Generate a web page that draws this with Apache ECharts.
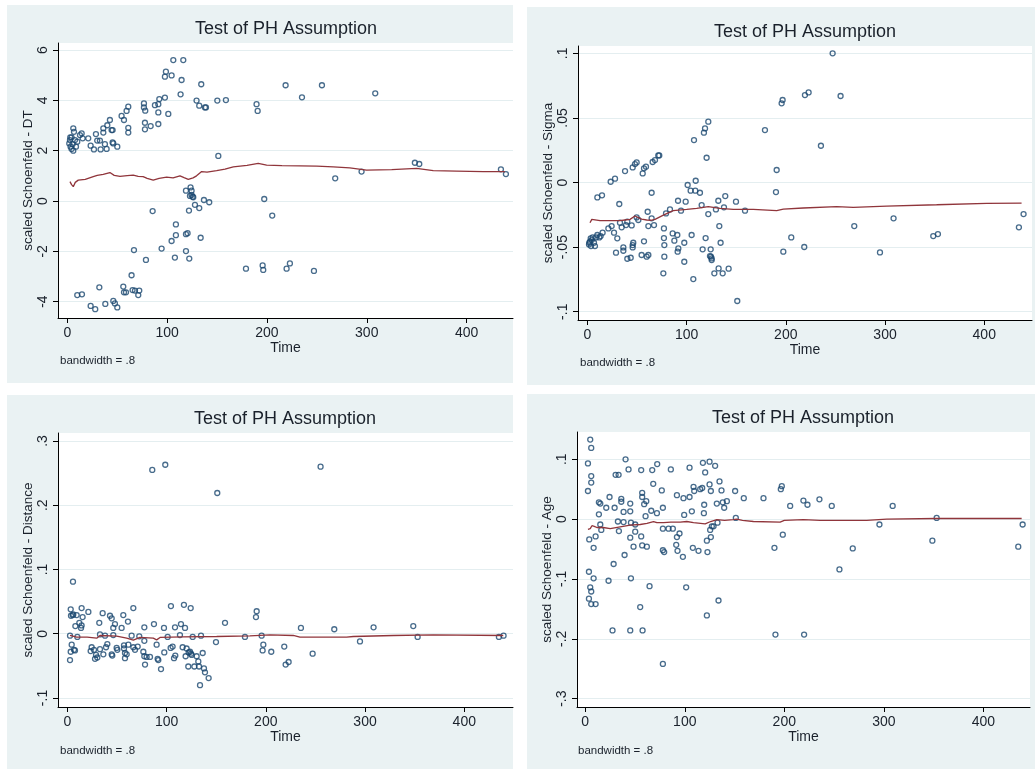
<!DOCTYPE html>
<html>
<head>
<meta charset="utf-8">
<title>Test of PH Assumption</title>
<script src="https://cdn.jsdelivr.net/npm/echarts@6/dist/echarts.min.js"></script>
<style>
  html, body { margin: 0; padding: 0; background: #ffffff; }
  #chart { width: 1035px; height: 769px; }
</style>
</head>
<body>
<div id="chart"></div>
<script>
// Scaled Schoenfeld residuals against analysis time, one panel per covariate,
// each with its lowess smooth (bandwidth .8).

const chartTitle = 'Test of PH Assumption';
const xAxisTitle = 'Time';
const noteText = 'bandwidth = .8';
const xTicks = [0, 100, 200, 300, 400];

// ---- DT ----
const dtName = 'scaled Schoenfeld - DT';
const dtTicks = [-4, -2, 0, 2, 4, 6];
const dtPoints = [
  [3.0,2.53],[4.3,2.53],[2.0,2.29],[3.3,2.16],[4.3,2.07],[6.0,2.0],[6.0,2.89],[6.7,2.75],[7.7,2.42],[8.7,2.16],[10.0,2.36],[5.3,2.26],[2.7,2.42],
  [12.7,2.62],[14.4,2.69],[15.4,2.49],[21.0,2.49],[23.4,2.20],[26.7,2.05],[28.7,2.66],[30.0,2.40],[32.7,2.40],[33.4,2.05],[36.1,2.89],[36.1,2.72],
  [37.7,2.26],[39.4,2.07],[40.1,3.01],[42.7,3.22],[44.4,2.82],[45.4,2.82],[45.4,2.33],[46.1,2.29],[50.1,2.16],[54.4,3.38],[56.8,3.22],[59.4,3.58],
  [61.1,3.75],[61.1,2.91],[61.1,2.72],
  [76.8,3.88],[76.8,3.72],[78.1,3.59],[77.8,3.11],[77.8,2.85],[83.5,2.98],[87.8,3.81],[91.2,3.85],[91.2,3.52],[91.2,3.06],[92.2,4.05],[97.8,4.11],
  [101.2,3.46],[97.8,4.94],[98.8,5.14],[104.5,4.99],[106.2,5.60],[116.2,5.60],[114.5,4.81],[113.5,4.24],[129.5,3.99],[132.2,3.79],[137.9,3.72],
  [138.9,3.72],[134.2,4.64],[150.3,3.99],[158.9,4.01],[151.3,1.79],
  [189.6,3.85],[190.7,3.58],[218.7,4.60],[235.1,4.12],[255.1,4.60],[308.5,4.28],[268.4,0.90],[294.8,1.17],[348.2,1.52],[352.6,1.47],[434.4,1.26],[439.4,1.07],
  [118.9,0.41],[123.5,0.54],[124.5,0.41],[124.5,0.24],[125.5,0.17],[122.9,0.20],[126.2,0.15],[121.9,-0.38],[127.9,-0.15],[132.2,-0.28],[136.9,0.04],
  [142.2,-0.05],[85.5,-0.40],[108.8,-0.93],[104.5,-1.59],[108.8,-1.36],[118.9,-1.32],[120.5,-1.28],[133.6,-1.46],[94.5,-1.89],[118.9,-1.99],
  [107.8,-2.25],[122.2,-2.29],[66.8,-1.95],[78.8,-2.34],[64.4,-2.95],[65.4,-3.54],[67.8,-3.56],[72.1,-3.56],[71.1,-3.74],[56.1,-3.40],[56.8,-3.63],
  [58.8,-3.63],[32.1,-3.43],[10.0,-3.74],[14.7,-3.71],[23.4,-4.17],[28.0,-4.30],[38.1,-4.09],[46.1,-3.97],[47.7,-4.07],[50.1,-4.23],
  [179.0,-2.69],[195.7,-2.56],[196.3,-2.74],[219.7,-2.69],[223.0,-2.48],[247.1,-2.78],[197.3,0.08],[205.3,-0.58]
];
const dtSmooth = [
  [2.7,0.77],[4.3,0.65],[6.0,0.57],[8.0,0.74],[11.0,0.83],[18.0,0.86],[26.0,0.97],[30.0,1.02],[36.0,1.06],[42.7,1.13],[47.0,1.02],[52.8,0.98],
  [60.0,1.01],[66.1,1.03],[71.0,0.98],[76.0,0.97],[80.0,0.90],[86.1,0.83],[92.0,0.90],[99.5,0.95],[106.0,0.92],[112.9,1.0],[117.0,0.93],
  [121.2,0.86],[126.0,0.92],[129.5,1.0],[134.6,1.17],[140.0,1.15],[149.6,1.21],[158.0,1.27],[166.3,1.36],[180.0,1.42],[191.3,1.50],
  [199.7,1.43],[215.0,1.41],[233.1,1.40],[250.0,1.39],[266.4,1.36],[283.0,1.32],[299.8,1.23],[325.0,1.25],[349.9,1.30],[366.6,1.21],
  [390.0,1.19],[416.7,1.17],[438.4,1.17]
];

// ---- Sigma ----
const sigmaName = 'scaled Schoenfeld - Sigma';
const sigmaTicks = [-0.1, -0.05, 0, 0.05, 0.1];
const sigmaPoints = [
  [1.7,-0.0479],[2.7,-0.0458],[3.4,-0.0432],[4.4,-0.0445],[2.0,-0.0466],[3.7,-0.0492],[5.4,-0.0425],[6.7,-0.0466],[7.7,-0.0492],[8.7,-0.0425],
  [10.1,-0.0406],[12.1,-0.0425],[13.4,-0.0414],[15.4,-0.0388],
  [10.1,-0.0115],[14.8,-0.0099],[23.5,0.0006],[27.9,0.0030],[32.2,-0.0166],[38.0,0.0089],[45.7,0.0117],[48.0,0.0143],[49.7,0.0156],[55.8,0.0071],
  [57.1,0.0110],[59.1,0.0123],[64.8,-0.0079],[65.8,0.0159],[68.2,0.0174],[71.5,0.0210],[72.5,0.0210],
  [21.2,-0.0355],[24.5,-0.0337],[26.9,-0.0388],[30.2,-0.0432],[28.9,-0.0543],[32.9,-0.0311],[34.6,-0.0347],[36.3,-0.0502],[36.3,-0.0528],
  [39.0,-0.0329],[40.3,-0.0303],[40.3,-0.0590],[43.7,-0.0582],[44.7,-0.0332],[45.7,-0.0502],[45.7,-0.0484],[46.3,-0.0466],[49.7,-0.0270],
  [51.4,-0.0290],[54.7,-0.0561],[57.1,-0.0455],[59.8,-0.0574],[61.5,-0.0561],[60.8,-0.0226],[61.5,-0.0337],[64.8,-0.0277],[67.2,-0.0329],
  [77.2,-0.0355],[77.2,-0.0430],[77.6,-0.0484],[77.6,-0.0574],[76.6,-0.0703],[79.3,-0.0239],[83.3,-0.0208],[86.0,-0.0394],[87.7,-0.0450],
  [90.7,-0.0406],[91.0,-0.0535],[91.7,-0.0510],[94.4,-0.0218],[97.7,-0.0466],[97.7,-0.0613],[99.1,-0.0148],[91.4,-0.0141],[101.1,-0.0019],
  [104.1,-0.0063],[105.1,-0.0406],[107.5,0.0329],[108.8,-0.0063],[109.2,0.0014],[113.5,-0.0079],[115.2,-0.0174],[116.2,-0.0517],[106.8,-0.0747],
  [117.5,0.0386],[118.6,0.0419],[120.2,0.0192],[121.9,0.0471],[119.2,-0.0430],[121.9,-0.0244],[124.3,-0.0517],[123.6,-0.0569],[124.6,-0.0574],
  [125.3,-0.0587],[125.3,-0.0600],[128.0,-0.0703],[129.6,-0.0208],[132.0,-0.0141],[133.0,-0.0337],[134.3,-0.0466],[132.3,-0.0665],[136.4,-0.0703],
  [137.7,-0.0192],[139.0,-0.0105],[142.4,-0.0667],[149.8,-0.0148],[151.1,-0.0917],[158.9,-0.0218],
  [179.0,0.0406],[190.1,-0.0074],[190.8,0.0097],[195.8,0.0613],[196.8,0.0639],[197.5,-0.0535],[205.5,-0.0425],[219.3,0.0677],[223.0,0.0698],
  [218.6,-0.0499],[235.4,0.0285],[247.2,0.1],[255.2,0.0670],[269.0,-0.0337],[294.9,-0.0541],[308.6,-0.0277],[348.6,-0.0414],[353.3,-0.0399],
  [434.9,-0.0347],[439.6,-0.0244]
];
const sigmaSmooth = [
  [2.7,-0.0311],[4.5,-0.0285],[6.0,-0.0277],[12.8,-0.0295],[22.0,-0.0295],[32.9,-0.0295],[38.0,-0.0290],[43.0,-0.0285],[48.0,-0.0259],
  [54.7,-0.0283],[59.8,-0.0290],[64.0,-0.0292],[68.2,-0.0285],[76.6,-0.0252],[86.6,-0.0218],[100.1,-0.0208],[110.2,-0.0200],[121.9,-0.0187],
  [133.7,-0.0200],[147.1,-0.0208],[167.3,-0.0208],[190.8,-0.0218],[197.5,-0.0205],[217.6,-0.0197],[251.2,-0.0187],[268.0,-0.0192],
  [301.6,-0.0182],[352.0,-0.0172],[402.4,-0.0161],[437.6,-0.0159]
];

// ---- Distance ----
const distName = 'scaled Schoenfeld - Distance';
const distTicks = [-0.1, 0, 0.1, 0.2, 0.3];
const distPoints = [
  [85.6,0.255],[98.7,0.263],[151.1,0.219],[255.2,0.260],[5.7,0.081],
  [2.7,-0.003],[2.7,-0.041],[3.4,0.038],[3.7,0.028],[4.4,-0.017],[3.4,-0.028],[5.4,0.029],[6.0,0.030],[6.7,-0.025],[7.7,-0.026],[8.1,0.012],
  [9.4,0.029],[10.1,-0.005],[12.1,0.017],[13.8,0.009],[14.4,0.040],[15.4,0.026],[14.4,0.013],[21.2,0.034],[23.5,-0.027],[24.5,-0.021],
  [26.9,-0.025],[27.9,-0.039],[28.9,-0.033],[30.2,-0.037],[32.2,0.017],[32.9,-0.001],[32.9,-0.024],[35.6,0.032],[36.3,-0.032],[38.0,-0.003],
  [39.0,-0.021],[40.3,-0.016],[43.0,0.028],[44.7,0.024],[44.7,-0.032],[45.3,-0.034],[46.3,0.009],[46.3,-0.002],[48.0,0.015],[49.7,-0.022],
  [50.4,-0.025],[54.7,0.009],[56.4,0.029],[57.1,-0.018],[57.1,-0.023],[58.1,-0.030],[58.1,-0.038],[59.8,-0.032],[61.1,0.019],[61.5,-0.017],
  [64.8,-0.003],[66.5,0.040],[66.5,-0.021],[68.2,-0.025],[70.9,-0.020],[72.5,-0.004],[76.6,-0.028],[77.6,0.010],[77.6,-0.011],[77.6,-0.035],
  [78.3,-0.048],[79.9,-0.036],[83.3,-0.036],[87.3,0.015],[90.0,-0.017],[91.0,-0.039],[91.7,-0.041],[94.4,-0.055],[97.4,0.009],[97.7,-0.029],
  [101.1,-0.005],[104.1,-0.022],[104.4,0.043],[106.1,-0.020],[107.5,-0.038],[108.5,0.010],[108.8,-0.034],[113.5,-0.002],[114.5,0.015],
  [116.2,-0.021],[117.5,0.045],[118.6,0.009],[119.2,-0.035],[120.2,-0.023],[121.9,-0.051],[122.3,-0.029],[123.6,-0.028],[124.3,0.040],
  [124.6,-0.031],[125.3,-0.033],[126.3,-0.005],[128.0,-0.051],[130.3,-0.035],[132.0,-0.043],[132.7,-0.051],[133.7,-0.080],[134.7,-0.003],
  [136.4,-0.030],[137.7,-0.054],[138.7,-0.060],[142.4,-0.069],[149.8,-0.013],[158.9,0.017],
  [179.0,-0.005],[190.1,0.026],[190.8,0.035],[195.8,-0.003],[196.8,-0.026],[197.5,-0.017],[205.5,-0.028],[218.6,-0.020],[220.0,-0.048],
  [223.0,-0.044],[235.4,0.009],[247.2,-0.031],[269.0,0.007],[294.9,-0.012],[308.6,0.010],[348.6,0.012],[353.0,-0.005],[434.9,-0.005],[439.6,-0.003]
];
const distSmooth = [
  [2.7,-0.0027],[9.4,-0.0053],[20.0,-0.0053],[29.6,-0.0069],[32.9,-0.0027],[49.7,-0.0037],[59.8,-0.0069],[66.5,-0.0100],[73.2,-0.0058],
  [86.6,-0.0069],[90.0,-0.0095],[93.4,-0.0058],[116.9,-0.0048],[150.5,-0.0043],[184.0,-0.0032],[204.2,-0.0017],[227.7,-0.0027],
  [234.4,-0.0053],[281.4,-0.0053],[288.2,-0.0043],[328.5,-0.0027],[368.8,-0.0017],[439.3,-0.0027]
];

// ---- Age ----
const ageName = 'scaled Schoenfeld - Age';
const ageTicks = [-0.3, -0.2, -0.1, 0, 0.1];
const agePoints = [
  [5.0,0.133],[6.0,0.119],[2.7,0.093],[6.0,0.072],[6.0,0.061],[2.7,0.047],[4.0,-0.034],[8.4,-0.048],[3.7,-0.088],[8.4,-0.099],[5.0,-0.114],
  [6.0,-0.121],[3.7,-0.133],[6.0,-0.142],[10.4,-0.142],[10.4,-0.029],[13.7,0.028],[15.1,0.026],[13.7,0.008],[15.1,-0.009],[16.1,-0.018],
  [21.1,0.019],[24.4,0.037],[29.5,0.019],[30.5,0.074],[33.5,0.074],[36.2,0.034],[36.2,0.029],[38.5,0.012],[32.8,-0.004],[33.8,-0.020],
  [38.5,-0.005],[40.5,0.100],[43.5,0.083],[39.5,-0.060],[28.5,-0.075],[23.4,-0.103],[27.4,-0.186],[45.2,0.026],[45.2,0.013],[45.2,-0.031],
  [45.9,-0.006],[48.5,-0.046],[50.2,-0.009],[50.2,-0.021],[45.9,-0.099],[45.2,-0.186],[56.2,0.082],[57.2,0.044],[57.2,0.037],[56.2,-0.029],
  [57.2,-0.044],[60.6,0.005],[59.2,0.025],[61.3,0.030],[61.9,-0.046],[66.3,0.014],[67.3,0.082],[68.3,0.059],[72.0,0.010],[72.3,0.092],
  [76.9,0.048],[78.0,0.019],[78.0,-0.016],[78.0,-0.052],[79.3,-0.055],[83.7,-0.016],[88.0,-0.016],[86.0,0.083],[92.1,0.040],[92.1,-0.030],
  [91.4,-0.043],[92.7,-0.053],[94.7,-0.024],[98.1,-0.063],[98.7,0.035],[99.4,0.007],[104.8,0.086],[104.8,0.037],[107.1,0.013],[108.1,-0.048],
  [108.8,0.054],[109.5,0.047],[113.8,-0.053],[115.5,0.050],[117.5,0.052],[118.2,0.094],[119.5,0.024],[119.2,0.010],[120.5,0.078],
  [122.2,-0.036],[122.8,-0.055],[124.9,0.096],[124.9,0.058],[126.2,0.047],[125.5,-0.018],[127.2,-0.012],[126.2,-0.030],[128.9,-0.012],
  [130.5,0.089],[132.2,0.026],[132.9,-0.006],[134.9,0.063],[136.9,0.048],[138.2,0.028],[139.6,0.019],[142.3,0.030],[122.2,-0.161],
  [101.4,-0.114],[64.6,-0.112],[55.2,-0.147],[57.6,-0.186],[78.0,-0.242],[133.9,-0.136],[150.6,0.047],[151.3,0.002],[159.3,0.035],
  [179.1,0.035],[190.1,-0.048],[191.1,-0.193],[196.5,0.050],[197.5,0.055],[198.5,-0.026],[205.9,0.022],[219.2,0.031],[223.3,0.024],
  [219.9,-0.193],[235.3,0.033],[247.7,0.022],[255.4,-0.084],[268.8,-0.049],[295.6,-0.009],[308.9,0.022],[348.8,-0.036],[353.1,0.002],
  [435.1,-0.046],[439.5,-0.009]
];
const ageSmooth = [
  [2.7,-0.017],[5.0,-0.016],[6.7,-0.011],[9.0,-0.012],[11.7,-0.014],[18.0,-0.014],[25.1,-0.016],[35.1,-0.013],[45.2,-0.010],[55.2,-0.009],
  [62.0,-0.007],[68.6,-0.004],[72.0,-0.006],[78.7,-0.006],[86.0,-0.005],[95.4,-0.005],[102.0,-0.004],[108.8,-0.006],[120.5,-0.008],
  [126.0,-0.004],[132.2,-0.001],[140.0,-0.002],[148.9,-0.001],[152.0,0.000],[158.0,-0.002],[169.0,-0.004],[195.8,-0.005],[200.0,-0.002],
  [219.2,-0.001],[236.0,-0.002],[282.8,-0.002],[302.9,0.000],[353.1,0.001],[438.5,0.001]
];

// ---- layout of the 2x2 combined graph ----
const FONT = '"Liberation Sans", Arial, Helvetica, sans-serif';
const TEXT = '#1a212b';
const MARKER = '#1a476f';
const SMOOTH = '#90353b';
const REGION = '#eaf2f3';

const panels = [
  { name: dtName,    ticks: dtTicks,    points: dtPoints,    smooth: dtSmooth,
    bg: [7, 5, 506, 378],   grid: [58, 43, 455, 275],  x: [-9.3, 446.5], y: [-4.65, 6.28],
    title: [286, 29],  note: [60, 361] },
  { name: sigmaName, ticks: sigmaTicks, points: sigmaPoints, smooth: sigmaSmooth,
    bg: [527, 7, 508, 378], grid: [578, 46, 454, 274], x: [-9.4, 448.1], y: [-0.1064, 0.1057],
    title: [805, 32],  note: [580, 363] },
  { name: distName,  ticks: distTicks,  points: distPoints,  smooth: distSmooth,
    bg: [7, 395, 506, 374], grid: [58, 433, 455, 274], x: [-9.4, 449.1], y: [-0.114, 0.3124],
    title: [285, 419], note: [60, 751] },
  { name: ageName,   ticks: ageTicks,   points: agePoints,   smooth: ageSmooth,
    bg: [527, 394, 508, 375], grid: [577, 432, 453, 275], x: [-8.3, 446.9], y: [-0.314, 0.1456],
    title: [803, 418], note: [578, 751] }
];

// Stata-style numeric labels: ".05" rather than "0.05"
function stataLabel(v) {
  if (v === 0) return '0';
  const s = String(Math.abs(+v.toFixed(6))).replace(/^0\./, '.');
  return (v < 0 ? '-' : '') + s;
}

const grids = [], xAxes = [], yAxes = [], series = [], graphics = [];

panels.forEach((p, i) => {
  graphics.push({
    type: 'rect', z: -20, silent: true,
    shape: { x: p.bg[0], y: p.bg[1], width: p.bg[2], height: p.bg[3] },
    style: { fill: REGION }
  });
  graphics.push({
    type: 'rect', z: -19, silent: true,
    shape: { x: p.grid[0], y: p.grid[1], width: p.grid[2], height: p.grid[3] },
    style: { fill: '#ffffff' }
  });
  graphics.push({
    type: 'text', z: 5, silent: true, x: p.title[0], y: p.title[1],
    style: { text: chartTitle, font: '18px ' + FONT, fill: TEXT, textAlign: 'center', textVerticalAlign: 'middle' }
  });
  graphics.push({
    type: 'text', z: 5, silent: true, x: p.note[0], y: p.note[1],
    style: { text: noteText, font: '11.5px ' + FONT, fill: TEXT, textAlign: 'left', textVerticalAlign: 'middle' }
  });

  grids.push({ left: p.grid[0], top: p.grid[1], width: p.grid[2], height: p.grid[3], show: false, containLabel: false });

  xAxes.push({
    type: 'value', gridIndex: i, min: p.x[0], max: p.x[1],
    name: xAxisTitle, nameLocation: 'middle', nameGap: 19,
    nameTextStyle: { fontFamily: FONT, fontSize: 14, color: TEXT },
    axisLine: { show: true, onZero: false, lineStyle: { color: '#000', width: 1 } },
    axisTick: { show: true, length: 5, customValues: xTicks, lineStyle: { color: '#000', width: 1 } },
    axisLabel: { show: true, customValues: xTicks, margin: 8, fontFamily: FONT, fontSize: 14, color: TEXT,
                 formatter: v => String(v) },
    splitLine: { show: false }
  });

  yAxes.push({
    type: 'value', gridIndex: i, min: p.y[0], max: p.y[1],
    name: p.name, nameLocation: 'middle', nameGap: 22, nameRotate: 90,
    nameTextStyle: { fontFamily: FONT, fontSize: 13.5, color: TEXT },
    axisLine: { show: true, onZero: false, lineStyle: { color: '#000', width: 1 } },
    axisTick: { show: true, length: 5, customValues: p.ticks, lineStyle: { color: '#000', width: 1 } },
    axisLabel: { show: true, customValues: p.ticks, rotate: 90, margin: 8, fontFamily: FONT, fontSize: 14, color: TEXT,
                 formatter: stataLabel },
    splitLine: { show: true, lineStyle: { color: '#e4eef0', width: 1 } }
  });

  series.push({
    type: 'scatter', xAxisIndex: i, yAxisIndex: i, data: p.points,
    symbol: 'circle', symbolSize: 5, silent: true, z: 3,
    itemStyle: { color: 'rgba(255,255,255,0)', borderColor: MARKER, borderWidth: 1.3 }
  });
  series.push({
    type: 'line', xAxisIndex: i, yAxisIndex: i, data: p.smooth,
    showSymbol: false, smooth: false, silent: true, z: 4,
    lineStyle: { color: SMOOTH, width: 1.3 }
  });
});

const chart = echarts.init(document.getElementById('chart'), null, { renderer: 'canvas' });
chart.setOption({
  backgroundColor: '#ffffff',
  animation: false,
  grid: grids,
  xAxis: xAxes,
  yAxis: yAxes,
  series: series,
  graphic: { elements: graphics }
});
</script>
</body>
</html>
